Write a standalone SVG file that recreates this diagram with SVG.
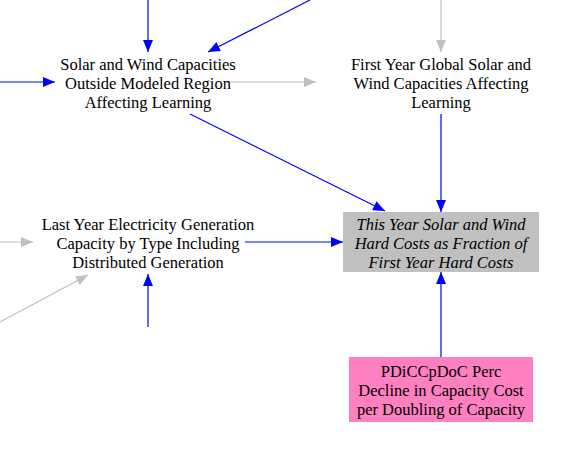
<svg xmlns="http://www.w3.org/2000/svg" width="564" height="453" viewBox="0 0 564 453">
<defs>
<marker id="ab" viewBox="0 0 12 10" refX="12" refY="5" markerWidth="12" markerHeight="10" markerUnits="userSpaceOnUse" orient="auto"><path d="M0,0 L12,5 L0,10 z" fill="#0000ff"/></marker>
<marker id="ag" viewBox="0 0 12 10" refX="12" refY="5" markerWidth="12" markerHeight="10" markerUnits="userSpaceOnUse" orient="auto"><path d="M0,0 L12,5 L0,10 z" fill="#c0c0c0"/></marker>
</defs>
<style>
text{font-family:"Liberation Serif","Times New Roman",serif;font-size:16.5px;fill:#000;text-anchor:middle}
.b{stroke:#0000ff;stroke-width:1.2;fill:none;marker-end:url(#ab)}
.g{stroke:#c0c0c0;stroke-width:1.2;fill:none;marker-end:url(#ag)}
.it{font-style:italic}
</style>
<rect width="564" height="453" fill="#fff"/>
<g id="connectors">
<path class="b" d="M148,0 L148,52"/>
<path class="b" d="M310,0 L208,52"/>
<path class="b" d="M0,82 L55,82"/>
<path class="g" d="M225,82 L316,82"/>
<path class="g" d="M441,0 L441,52"/>
<path class="b" d="M441,114 L441,212"/>
<path class="b" d="M190,114 L385,211"/>
<path class="g" d="M0,242 L33,242"/>
<path class="g" d="M0,322 L88,275"/>
<path class="b" d="M148,327 L148,274"/>
<path class="b" d="M245,242 L343,242"/>
<path class="b" d="M441,357 L441,272"/>
</g>
<g id="node-outside">
<text x="148" y="70">Solar and Wind Capacities</text>
<text x="148" y="89">Outside Modeled Region</text>
<text x="148" y="108">Affecting Learning</text>
</g>
<g id="node-first-year">
<text x="441" y="70">First Year Global Solar and</text>
<text x="441" y="89">Wind Capacities Affecting</text>
<text x="441" y="108">Learning</text>
</g>
<g id="node-last-year">
<text x="148" y="230">Last Year Electricity Generation</text>
<text x="148" y="249">Capacity by Type Including</text>
<text x="148" y="268">Distributed Generation</text>
</g>
<g id="node-this-year">
<rect x="343" y="212" width="196" height="60" fill="#c0c0c0"/>
<text class="it" x="441" y="230">This Year Solar and Wind</text>
<text class="it" x="441" y="249">Hard Costs as Fraction of</text>
<text class="it" x="441" y="268">First Year Hard Costs</text>
</g>
<g id="node-pdiccpdoc">
<rect x="349" y="357" width="184" height="65" fill="#ff80c0"/>
<text x="441" y="377">PDiCCpDoC Perc</text>
<text x="441" y="396">Decline in Capacity Cost</text>
<text x="441" y="415">per Doubling of Capacity</text>
</g>
</svg>
